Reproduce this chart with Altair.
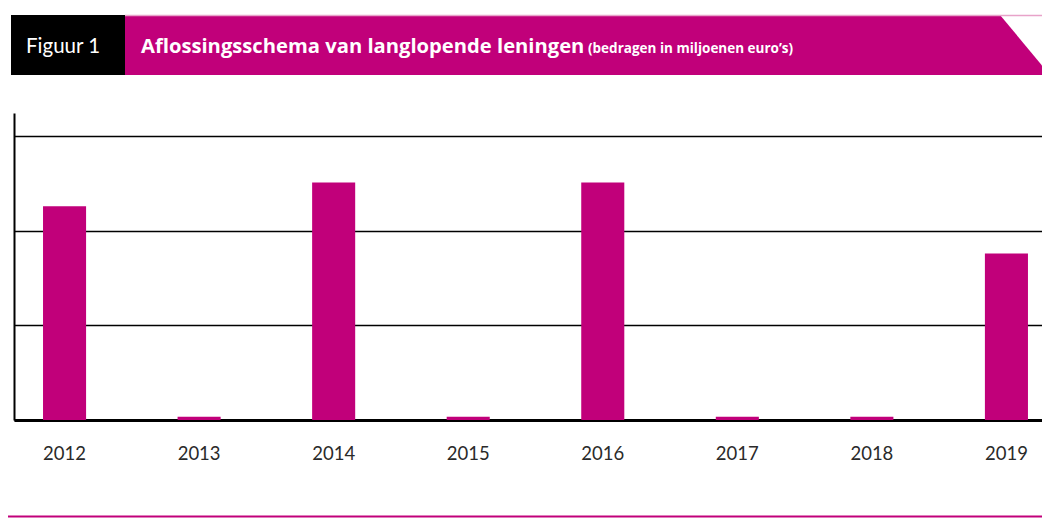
import altair as alt
import pandas as pd

years = ["2012", "2013", "2014", "2015", "2016", "2017", "2018", "2019"]
amounts = [226, 3.5, 251, 3.5, 251, 3.5, 3.5, 176]
grid_values = [0, 100, 200, 300]

MAGENTA = "#c1007a"

df = pd.DataFrame({"jaar": years, "bedrag": amounts})

W, H = 1028, 307

bars = alt.Chart(df).mark_bar(color=MAGENTA).encode(
    x=alt.X("jaar:O",
            scale=alt.Scale(paddingInner=0.68, paddingOuter=0.16, align=0.674),
            axis=alt.Axis(title=None, labelAngle=0, ticks=False, domain=True,
                          domainColor="black", domainWidth=3,
                          labelFont="Lato", labelFontSize=18.5, labelFontWeight="normal",
                          labelColor="#2a2a2a", labelPadding=24, grid=False)),
    y=alt.Y("bedrag:Q",
            scale=alt.Scale(domain=[0, 324.5], nice=False),
            axis=alt.Axis(title=None, labels=False, ticks=False, domain=True,
                          domainColor="black", domainWidth=2,
                          values=grid_values, grid=True, gridColor="black",
                          gridWidth=1.5, gridOpacity=1)),
)

def txt_chart(t):
    return alt.Chart(pd.DataFrame({"t": [t]}))

black_box = txt_chart("a").mark_rect(color="black").encode(
    x=alt.value(-3), x2=alt.value(111), y=alt.value(-98), y2=alt.value(-38))
mag_box = txt_chart("a").mark_rect(color=MAGENTA).encode(
    x=alt.value(111), x2=alt.value(987), y=alt.value(-98), y2=alt.value(-38))
tri = txt_chart("a").mark_point(
    shape="M -0.833 -1 L 0.833 1 L -0.833 1 Z", filled=True, opacity=1,
    color=MAGENTA, size=3600, strokeWidth=0).encode(
    x=alt.value(1011), y=alt.value(-68))
top_line = txt_chart("a").mark_rule(color="#e8a3c9", strokeWidth=1.5).encode(
    x=alt.value(111), x2=alt.value(1028), y=alt.value(-97.5))
bottom_line = txt_chart("a").mark_rule(color=MAGENTA, strokeWidth=2).encode(
    x=alt.value(-8), x2=alt.value(1028), y=alt.value(403.5))

fig_txt = txt_chart("Figuur 1").mark_text(
    font="Lato", fontSize=20.5, color="white", align="left", baseline="alphabetic").encode(
    x=alt.value(12), y=alt.value(-60.5), text="t:N")
title_txt = txt_chart("Aflossingsschema van langlopende leningen").mark_text(
    font="Open Sans", fontSize=20.2, fontWeight="bold", color="white", align="left",
    baseline="alphabetic").encode(x=alt.value(127), y=alt.value(-60.5), text="t:N")
sub_txt = txt_chart("(bedragen in miljoenen euro\u2019s)").mark_text(
    font="Open Sans", fontSize=13.5, fontWeight="bold", color="white", align="left",
    baseline="alphabetic").encode(x=alt.value(574), y=alt.value(-60.5), text="t:N")

chart = alt.layer(
    bars, black_box, mag_box, tri, top_line, bottom_line, fig_txt, title_txt, sub_txt
).properties(
    width=W, height=H,
    autosize=alt.AutoSizeParams(type="none"),
    padding={"left": 6, "top": 105, "right": 0, "bottom": 99},
).configure_view(stroke=None)

chart.save("out.html", embed_options={"renderer": "svg", "actions": False})
